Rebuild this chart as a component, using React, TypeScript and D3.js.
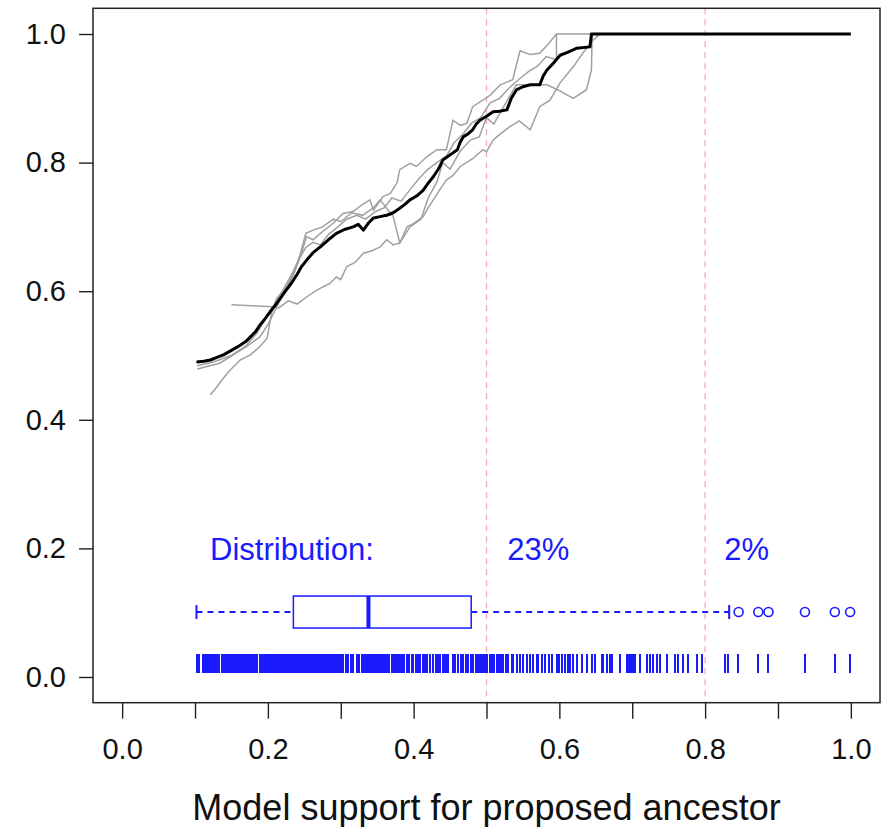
import { useEffect, useRef } from "react";
import * as d3 from "d3";

const width = 893;
const height = 827;

const margin = {
  top: 8.3,
  bottom: 124.3,
  left: 93,
  right: 13,
};

// running mean (black) and the replicate curves (grey)
const meanCurve: [number, number][] = [
  [0.102, 0.490], [0.112, 0.491], [0.121, 0.493], [0.130, 0.497], [0.139, 0.501],
  [0.150, 0.508], [0.162, 0.516], [0.170, 0.522], [0.176, 0.529], [0.183, 0.537],
  [0.189, 0.547], [0.196, 0.557], [0.203, 0.568], [0.210, 0.578], [0.217, 0.589],
  [0.224, 0.600], [0.232, 0.612], [0.240, 0.626], [0.246, 0.638], [0.253, 0.648],
  [0.262, 0.660], [0.272, 0.669], [0.283, 0.680], [0.294, 0.690], [0.305, 0.696],
  [0.317, 0.700], [0.324, 0.704], [0.331, 0.695], [0.338, 0.706], [0.345, 0.714],
  [0.354, 0.716], [0.363, 0.718], [0.372, 0.722], [0.381, 0.729], [0.388, 0.735],
  [0.395, 0.742], [0.404, 0.748], [0.413, 0.757], [0.420, 0.768], [0.427, 0.778],
  [0.434, 0.790], [0.440, 0.804], [0.450, 0.812], [0.460, 0.820], [0.464, 0.832],
  [0.468, 0.840], [0.475, 0.845], [0.481, 0.851], [0.486, 0.860], [0.491, 0.866],
  [0.500, 0.872], [0.509, 0.879], [0.518, 0.880], [0.528, 0.882], [0.534, 0.900],
  [0.541, 0.913], [0.550, 0.918], [0.560, 0.921], [0.573, 0.921], [0.578, 0.935],
  [0.583, 0.944], [0.592, 0.955], [0.601, 0.967], [0.612, 0.972], [0.624, 0.978],
  [0.642, 0.980], [0.644, 1.0], [1.0, 1.0],
];

const rep1: [number, number][] = [
  [0.103, 0.479], [0.134, 0.488], [0.171, 0.514], [0.189, 0.529], [0.200, 0.548],
  [0.212, 0.575], [0.222, 0.598], [0.235, 0.625], [0.245, 0.655], [0.253, 0.685],
  [0.262, 0.680], [0.272, 0.690], [0.290, 0.706], [0.303, 0.721], [0.317, 0.724],
  [0.330, 0.735], [0.340, 0.742], [0.345, 0.726], [0.358, 0.747], [0.368, 0.752],
  [0.377, 0.768], [0.381, 0.789], [0.395, 0.799], [0.404, 0.794], [0.418, 0.809],
  [0.432, 0.820], [0.445, 0.820], [0.454, 0.866], [0.464, 0.858], [0.473, 0.861],
  [0.481, 0.887], [0.495, 0.897], [0.505, 0.905], [0.519, 0.921], [0.536, 0.929],
  [0.546, 0.974], [0.560, 0.968], [0.573, 0.970], [0.585, 0.985], [0.596, 1.0],
  [0.648, 1.0],
];

const rep2: [number, number][] = [
  [0.121, 0.439], [0.130, 0.451], [0.139, 0.465], [0.148, 0.477], [0.162, 0.493],
  [0.176, 0.501], [0.189, 0.514], [0.199, 0.527], [0.205, 0.566], [0.212, 0.589],
  [0.226, 0.607], [0.236, 0.630], [0.245, 0.660], [0.252, 0.690], [0.262, 0.695],
  [0.275, 0.700], [0.290, 0.712], [0.300, 0.708], [0.315, 0.722], [0.330, 0.718],
  [0.345, 0.730], [0.354, 0.742], [0.372, 0.716], [0.381, 0.675], [0.395, 0.700],
  [0.410, 0.712], [0.420, 0.745], [0.432, 0.770], [0.440, 0.800], [0.450, 0.790],
  [0.464, 0.818], [0.478, 0.835], [0.490, 0.840], [0.500, 0.870], [0.510, 0.860],
  [0.520, 0.880], [0.541, 0.921], [0.560, 0.921], [0.583, 0.921], [0.600, 0.912],
  [0.619, 0.900], [0.637, 0.913], [0.644, 0.944], [0.645, 1.0],
];

const rep3: [number, number][] = [
  [0.150, 0.579], [0.205, 0.576], [0.215, 0.574], [0.228, 0.585], [0.240, 0.580],
  [0.253, 0.591], [0.265, 0.600], [0.276, 0.607], [0.285, 0.612], [0.294, 0.622],
  [0.300, 0.618], [0.308, 0.638], [0.320, 0.645], [0.331, 0.659], [0.343, 0.663],
  [0.354, 0.669], [0.363, 0.680], [0.372, 0.672], [0.381, 0.675], [0.391, 0.700],
  [0.400, 0.705], [0.413, 0.716], [0.420, 0.730], [0.427, 0.742], [0.436, 0.758],
  [0.445, 0.773], [0.454, 0.780], [0.464, 0.794], [0.481, 0.806], [0.495, 0.820],
  [0.500, 0.817], [0.509, 0.835], [0.514, 0.840], [0.532, 0.856], [0.545, 0.865],
  [0.560, 0.851], [0.573, 0.887], [0.587, 0.897], [0.601, 0.924], [0.619, 0.949],
  [0.632, 0.970], [0.646, 0.990], [0.656, 1.0],
];

const rep4: [number, number][] = [
  [0.103, 0.484], [0.125, 0.490], [0.150, 0.500], [0.170, 0.515], [0.185, 0.535],
  [0.196, 0.556], [0.208, 0.578], [0.220, 0.600], [0.232, 0.625], [0.242, 0.648],
  [0.252, 0.668], [0.262, 0.676], [0.272, 0.672], [0.283, 0.688], [0.296, 0.700],
  [0.308, 0.712], [0.322, 0.718], [0.334, 0.712], [0.348, 0.724], [0.360, 0.730],
  [0.370, 0.745], [0.383, 0.740], [0.395, 0.758], [0.408, 0.776], [0.420, 0.790],
  [0.432, 0.800], [0.445, 0.810], [0.455, 0.830], [0.468, 0.845], [0.480, 0.862],
  [0.492, 0.870], [0.505, 0.893], [0.518, 0.900], [0.530, 0.915], [0.545, 0.930],
  [0.558, 0.942], [0.570, 0.950], [0.582, 0.965], [0.596, 0.960], [0.596, 1.0],
];

const replicates = [rep1, rep2, rep3, rep4];

// observed model support values (rug)
const supportValues = [
  0.1024, 0.1061, 0.1107, 0.1143, 0.1171, 0.1189, 0.1207, 0.1225, 0.1244, 0.1262,
  0.128, 0.1307, 0.1335, 0.1367, 0.139, 0.1413, 0.1436, 0.1463, 0.1481, 0.1509,
  0.1536, 0.1564, 0.1596, 0.1619, 0.1646, 0.1664, 0.1683,
  0.170, 0.1725, 0.175, 0.1775, 0.180, 0.1825, 0.185, 0.1856,
  0.1885, 0.191, 0.1935, 0.196, 0.1985, 0.201, 0.2035, 0.206, 0.2085, 0.211,
  0.2135, 0.216, 0.2185, 0.221, 0.2222,
  0.225, 0.2275, 0.230, 0.2325, 0.235, 0.2375, 0.240, 0.2425, 0.245, 0.2475,
  0.250, 0.2525, 0.255, 0.2575, 0.260, 0.2625, 0.265, 0.2675, 0.270, 0.2725,
  0.275, 0.2775, 0.280, 0.2825, 0.285, 0.2875, 0.290, 0.2925, 0.2945,
  0.2981, 0.3004, 0.3036, 0.3068, 0.3105, 0.3137, 0.3173, 0.3219, 0.3255,
  0.329, 0.3315, 0.334, 0.3365, 0.339, 0.3415, 0.344, 0.3465, 0.349, 0.3515,
  0.354, 0.3565, 0.359, 0.3615, 0.364, 0.3665,
  0.3705, 0.373, 0.3755, 0.378, 0.3805, 0.3813,
  0.3836, 0.3868, 0.3905, 0.3941, 0.3973, 0.3996, 0.4033, 0.406, 0.4088,
  0.4125, 0.4156, 0.4188, 0.4225, 0.4271, 0.4303, 0.4339, 0.4362,
  0.4407, 0.443, 0.4455, 0.4476,
  0.4545, 0.4572, 0.4614, 0.4646, 0.4682, 0.4719, 0.4751, 0.4783, 0.4819, 0.4856,
  0.4879, 0.4902, 0.4925, 0.4956, 0.4979, 0.5011, 0.5048, 0.5075, 0.5103, 0.514,
  0.5167, 0.5195, 0.5231, 0.5267, 0.5299, 0.5345, 0.5368, 0.5414, 0.546, 0.5505,
  0.5551, 0.5597, 0.5642, 0.5688, 0.5711, 0.5757, 0.5802, 0.5862, 0.5894, 0.5963,
  0.5999, 0.6031, 0.6077, 0.6122, 0.6145, 0.6191, 0.6237, 0.6306, 0.6374, 0.6443,
  0.6488, 0.658, 0.6602, 0.6648, 0.6694, 0.6717, 0.6831,
  0.6923, 0.695, 0.6975, 0.700, 0.7025, 0.7037,
  0.7106, 0.7197, 0.7243, 0.7289, 0.7335, 0.738, 0.7472, 0.7586, 0.7631, 0.77,
  0.7768, 0.7883, 0.7952, 0.8272, 0.8317, 0.8454, 0.8728, 0.8866, 0.9369, 0.978,
  0.9986,
];

// boxplot: lower whisker, Q1, median, Q3, upper whisker
const boxStats = [0.102, 0.235, 0.338, 0.479, 0.833];
const outliers = [0.846, 0.873, 0.887, 0.937, 0.978, 0.999];

const cutoffs = [0.5, 0.8];
const annotations = ["Distribution:", "23%", "2%"];
const annotationX = [0.233, 0.571, 0.857];

const xTicks = [0, 0.1, 0.2, 0.3, 0.4, 0.5, 0.6, 0.7, 0.8, 0.9, 1.0];
const xLabelTicks = [0, 0.2, 0.4, 0.6, 0.8, 1.0];
const yTicks = [0, 0.2, 0.4, 0.6, 0.8, 1.0];

const font = "'Liberation Sans', Arial, Helvetica, sans-serif";

const App = () => {
  const xAxisRef = useRef<SVGGElement>(null);
  const yAxisRef = useRef<SVGGElement>(null);

  const bottom = height - margin.bottom;

  const xScale = d3
    .scaleLinear()
    .domain([-0.04, 1.04])
    .range([margin.left, width - margin.right]);

  const yScale = d3
    .scaleLinear()
    .domain([-0.04, 1.04])
    .range([bottom, margin.top]);

  const line = d3
    .line<[number, number]>()
    .x((d) => xScale(d[0]))
    .y((d) => yScale(d[1]));

  useEffect(() => {
    const xAxis = d3
      .axisBottom(xScale)
      .tickValues(xTicks)
      .tickSize(16)
      .tickPadding(20)
      .tickSizeOuter(0)
      .tickFormat((d) =>
        xLabelTicks.some((t) => Math.abs(t - +d) < 1e-9) ? d3.format(".1f")(+d) : ""
      );
    const yAxis = d3
      .axisLeft(yScale)
      .tickValues(yTicks)
      .tickSize(14)
      .tickPadding(13)
      .tickSizeOuter(0)
      .tickFormat(d3.format(".1f"));

    const gx = d3.select(xAxisRef.current!).call(xAxis);
    const gy = d3.select(yAxisRef.current!).call(yAxis);
    [gx, gy].forEach((g) => {
      g.select(".domain").remove();
      g.selectAll("line").attr("stroke", "#222").attr("stroke-width", 1.4);
      g.selectAll("text")
        .attr("font-size", "29px")
        .attr("font-family", font)
        .attr("fill", "#111");
    });
  }, []);

  const boxY = yScale(0.101);
  const boxHalf = 16;
  const capHalf = 7;
  const [lo, q1, med, q3, hi] = boxStats;

  return (
    <svg
      width={width}
      height={height}
      viewBox={`0 0 ${width} ${height}`}
      style={{ position: "absolute", left: 0, top: 0, background: "#fff" }}
    >
      <rect x={0} y={0} width={width} height={height} fill="#fff" />

      <g className="cutoffs">
        {cutoffs.map((c) => (
          <line
            key={c}
            x1={xScale(c)}
            x2={xScale(c)}
            y1={margin.top}
            y2={bottom}
            stroke="#f7a9b3"
            strokeWidth={1.3}
            strokeDasharray="6,5"
          />
        ))}
      </g>

      <g className="replicates" fill="none" stroke="#a0a0a0" strokeWidth={1.5}>
        {replicates.map((r, i) => (
          <path key={i} d={line(r) ?? ""} />
        ))}
      </g>

      <path
        d={line(meanCurve) ?? ""}
        fill="none"
        stroke="#000"
        strokeWidth={3}
        strokeLinejoin="round"
      />

      <g className="annotations" fill="#1a1aff" fontFamily={font} fontSize={31}>
        {annotations.map((t, i) => (
          <text
            key={t}
            x={xScale(annotationX[i])}
            y={yScale(0.2)}
            dy="0.36em"
            textAnchor="middle"
          >
            {t}
          </text>
        ))}
      </g>

      <g className="boxplot" stroke="#1a1aff" fill="none">
        <line x1={xScale(lo)} x2={xScale(q1)} y1={boxY} y2={boxY} strokeWidth={2} strokeDasharray="6,5" />
        <line x1={xScale(q3)} x2={xScale(hi)} y1={boxY} y2={boxY} strokeWidth={2} strokeDasharray="6,5" />
        <line x1={xScale(lo)} x2={xScale(lo)} y1={boxY - capHalf} y2={boxY + capHalf} strokeWidth={2} />
        <line x1={xScale(hi)} x2={xScale(hi)} y1={boxY - capHalf} y2={boxY + capHalf} strokeWidth={2} />
        <rect
          x={xScale(q1)}
          y={boxY - boxHalf}
          width={xScale(q3) - xScale(q1)}
          height={boxHalf * 2}
          fill="#fff"
          strokeWidth={1.5}
        />
        <line x1={xScale(med)} x2={xScale(med)} y1={boxY - boxHalf} y2={boxY + boxHalf} strokeWidth={4} />
        {outliers.map((o) => (
          <circle key={o} cx={xScale(o)} cy={boxY} r={4.5} strokeWidth={1.6} />
        ))}
      </g>

      <g className="rug" stroke="#1a1aff" strokeWidth={2} shapeRendering="crispEdges">
        {supportValues.map((v, i) => (
          <line key={i} x1={xScale(v)} x2={xScale(v)} y1={yScale(0.035)} y2={yScale(0.006)} />
        ))}
      </g>

      <rect
        x={margin.left}
        y={margin.top}
        width={width - margin.right - margin.left}
        height={bottom - margin.top}
        fill="none"
        stroke="#222"
        strokeWidth={1.5}
      />

      <g ref={xAxisRef} transform={`translate(0,${bottom})`} />
      <g ref={yAxisRef} transform={`translate(${margin.left},0)`} />

      <text
        x={(margin.left + width - margin.right) / 2}
        y={820}
        textAnchor="middle"
        fontFamily={font}
        fontSize={36}
        fill="#111"
      >
        Model support for proposed ancestor
      </text>
    </svg>
  );
};

export default App;
